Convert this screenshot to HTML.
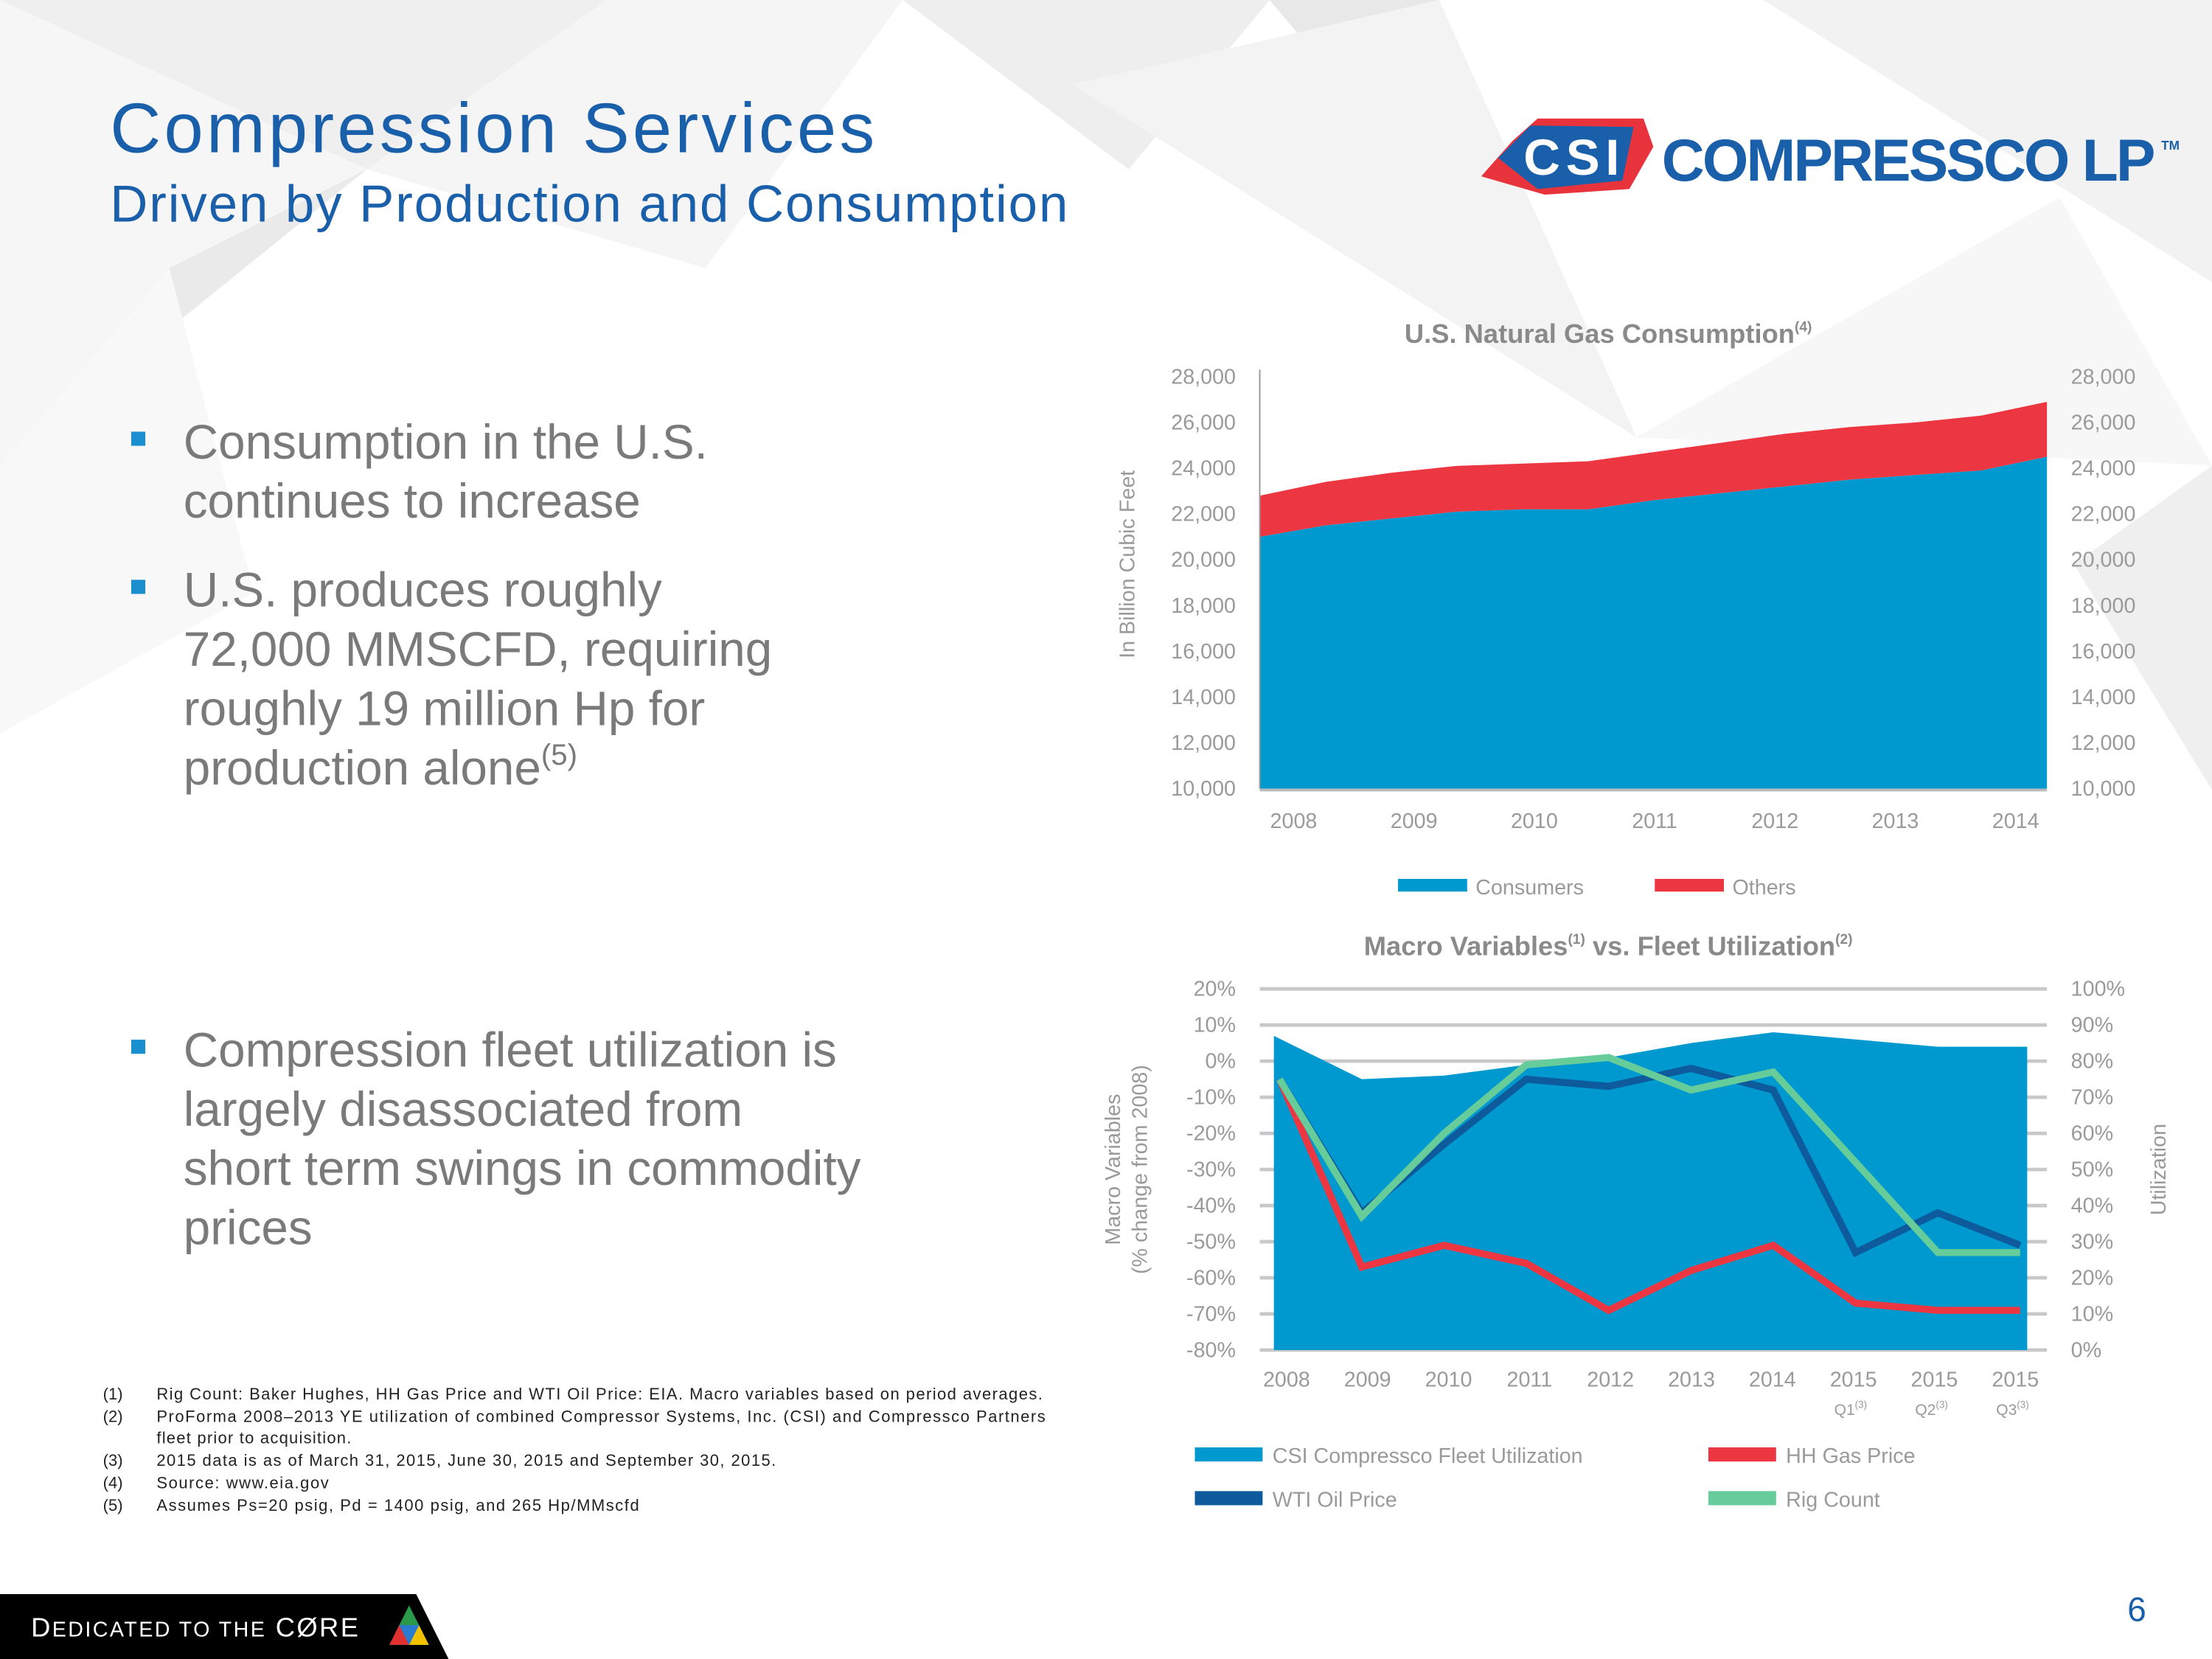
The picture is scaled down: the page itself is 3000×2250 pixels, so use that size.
<!DOCTYPE html>
<html><head><meta charset="utf-8">
<style>
html,body{margin:0;padding:0;background:#fff;}
svg{display:block;}
text{font-family:"Liberation Sans",Arial,sans-serif;}
.tk{fill:#9a9a9a;font-size:15px;}
.bl{fill:#7a7a7a;font-size:34.3px;}
.fn{fill:#222;font-size:11.5px;}
</style></head>
<body>
<svg id="s" width="3000" height="2250" viewBox="0 0 1568 1176" xmlns="http://www.w3.org/2000/svg">
<g>
<rect width="1568" height="1176" fill="#ffffff"/>
<polygon points="0,0 430,0 260,120" fill="#efefef"/>
<polygon points="260,120 430,0 640,0 500,190" fill="#f5f5f5"/>
<polygon points="0,0 260,120 0,330" fill="#f6f6f6"/>
<polygon points="0,330 260,120 120,190" fill="#eaeaea"/>
<polygon points="640,0 900,0 800,120" fill="#eeeeee"/>
<polygon points="900,0 1160,310 1020,0" fill="#e8e8e8"/>
<polygon points="760,60 1020,0 1160,310" fill="#f3f3f3"/>
<polygon points="1250,0 1568,0 1568,200" fill="#f2f2f2"/>
<polygon points="1160,310 1460,140 1568,330" fill="#f7f7f7"/>
<polygon points="1470,400 1568,330 1568,560" fill="#efefef"/>
<polygon points="0,330 120,190 180,420 0,520" fill="#f8f8f8"/>
</g>
<text x="78" y="108" fill="#1a5fa9" font-size="50" textLength="542">Compression Services</text>
<text x="78" y="157" fill="#1a5fa9" font-size="37" textLength="679">Driven by Production and Consumption</text>

<g>
<polygon points="1072,100 1090,84 1165,84 1172,104 1155,134 1095,138 1050,125" fill="#e8333c"/>
<polygon points="1062,112 1085,89 1158,90 1150,128 1090,134" fill="#1a5fa9"/>
<text x="1080" y="124" fill="#fff" font-size="36" font-weight="bold" textLength="68">CSI</text>
<text x="1178" y="128" fill="#1a5fa9" font-size="42" font-weight="bold" textLength="350">COMPRESSCO LP</text>
<text x="1532" y="106" fill="#1a5fa9" font-size="9" font-weight="bold">TM</text>
</g>

<g>
<rect x="93" y="306" width="10" height="10" fill="#1a8fd0"/>
<text x="130" y="325" class="bl">Consumption in the U.S.</text>
<text x="130" y="367" class="bl">continues to increase</text>
<rect x="93" y="411" width="10" height="10" fill="#1a8fd0"/>
<text x="130" y="430" class="bl">U.S. produces roughly</text>
<text x="130" y="472" class="bl">72,000 MMSCFD, requiring</text>
<text x="130" y="514" class="bl">roughly 19 million Hp for</text>
<text x="130" y="556" class="bl">production alone<tspan font-size="21" dy="-14">(5)</tspan></text>
<rect x="93" y="737" width="10" height="10" fill="#1a8fd0"/>
<text x="130" y="756" class="bl">Compression fleet utilization is</text>
<text x="130" y="798" class="bl">largely disassociated from</text>
<text x="130" y="840" class="bl">short term swings in commodity</text>
<text x="130" y="882" class="bl">prices</text>
</g>

<g>
<text x="73" y="992" class="fn">(1)</text><text x="111" y="992" class="fn" textLength="628">Rig Count: Baker Hughes, HH Gas Price and WTI Oil Price: EIA. Macro variables based on period averages.</text>
<text x="73" y="1008" class="fn">(2)</text><text x="111" y="1008" class="fn" textLength="630">ProForma 2008–2013 YE utilization of combined Compressor Systems, Inc. (CSI) and Compressco Partners</text>
<text x="111" y="1023" class="fn" textLength="138">fleet prior to acquisition.</text>
<text x="73" y="1039" class="fn">(3)</text><text x="111" y="1039" class="fn" textLength="439">2015 data is as of March 31, 2015, June 30, 2015 and September 30, 2015.</text>
<text x="73" y="1055" class="fn">(4)</text><text x="111" y="1055" class="fn" textLength="122">Source: www.eia.gov</text>
<text x="73" y="1071" class="fn">(5)</text><text x="111" y="1071" class="fn" textLength="342">Assumes Ps=20 psig, Pd = 1400 psig, and 265 Hp/MMscfd</text>
</g>

<g>
<polygon points="0,1130 295,1130 318,1176 0,1176" fill="#000"/>
<text x="22" y="1160" fill="#fff" font-size="19" textLength="232">D<tspan font-size="15">EDICATED TO THE</tspan> CØRE</text>
<polygon points="290,1138 276,1166 304,1166" fill="#2a9a4a"/>
<polygon points="283,1152 276,1166 290,1166" fill="#e03030"/>
<polygon points="297,1152 290,1166 304,1166" fill="#f2c200"/>
<polygon points="283,1152 297,1152 290,1166" fill="#2a7ad0"/>
</g>
<text x="1508" y="1149" fill="#1a5fa9" font-size="24">6</text>

<g id="chart1"></g>
<g id="chart2"></g>
</svg>
<script>
const NS='http://www.w3.org/2000/svg';
function mk(parent,tag,attrs,txt){const e=document.createElementNS(NS,tag);for(const k in attrs)e.setAttribute(k,attrs[k]);if(txt!==undefined)e.textContent=txt;parent.appendChild(e);return e;}

// ---- Chart 1 data ----
const c1Years=['2008','2009','2010','2011','2012','2013','2014'];
const c1Ticks=[10000,12000,14000,16000,18000,20000,22000,24000,26000,28000];
const consumers=[21000,21500,21800,22100,22200,22200,22600,22900,23200,23500,23700,23900,24500];
const totalGas=[22800,23400,23800,24100,24200,24300,24700,25100,25500,25800,26000,26300,26900];
const others=totalGas.map((t,i)=>t-consumers[i]);

// ---- Chart 2 data ----
const c2Cats=['2008','2009','2010','2011','2012','2013','2014','2015','2015','2015'];
const c2Sub=['','','','','','','','Q1','Q2','Q3'];
const c2LeftTicks=[20,10,0,-10,-20,-30,-40,-50,-60,-70,-80];
const c2RightTicks=[100,90,80,70,60,50,40,30,20,10,0];
const utilization=[87,75,76,79,81,85,88,86,84,84];
const wtiOil=[-5,-42,-23,-5,-7,-2,-8,-53,-42,-51];
const hhGas=[-5,-57,-51,-56,-69,-58,-51,-67,-69,-69];
const rigCount=[-5,-43,-20,-1,1,-8,-3,-28,-53,-53];

(function(){
const g=document.getElementById('chart1');
const x0=893,x1=1451,yTop=267,yBot=559;
const y=v=>yBot-(v-10000)/(28000-10000)*(yBot-yTop);
const xi=i=>x0+i/(consumers.length-1)*(x1-x0);
const t=mk(g,'text',{x:1140,y:243,'text-anchor':'middle',fill:'#8a8a8a','font-size':19,'font-weight':'bold'},'U.S. Natural Gas Consumption');


mk(t,'tspan',{'font-size':10,dy:-8},'(4)');
c1Ticks.forEach(v=>{
 const a=mk(g,'text',{x:876,y:y(v)+5,'text-anchor':'end',class:'tk'},v.toLocaleString('en-US'));
 
 
 const b=mk(g,'text',{x:1468,y:y(v)+5,class:'tk'},v.toLocaleString('en-US'));
 
 
});
const yl=mk(g,'text',{x:0,y:0,transform:'translate(804,400) rotate(-90)','text-anchor':'middle',fill:'#9a9a9a','font-size':15},'In Billion Cubic Feet');


let pt=consumers.map((v,i)=>xi(i)+','+y(v+others[i]));
let pc=consumers.map((v,i)=>xi(i)+','+y(v));
const ro=mk(g,'polygon',{points:pt.join(' ')+' '+pc.slice().reverse().join(' '),fill:'#ec3742'});


const rc=mk(g,'polygon',{points:pc.join(' ')+` ${x1},${yBot} ${x0},${yBot}`,fill:'#0099cf'});


mk(g,'line',{x1:x0,y1:yTop-5,x2:x0,y2:yBot,stroke:'#999','stroke-width':1});
mk(g,'line',{x1:x0,y1:yBot+1,x2:x1,y2:yBot+1,stroke:'#bbb','stroke-width':2});
c1Years.forEach((yr,i)=>{
 const e=mk(g,'text',{x:917+i*85.3,y:587,'text-anchor':'middle',class:'tk'},yr);
 
 
});
const l1=mk(g,'g',{});


mk(l1,'rect',{x:991,y:623,width:49,height:9,fill:'#0099cf'});
mk(l1,'text',{x:1046,y:634,class:'tk'},'Consumers');
const l2=mk(g,'g',{});


mk(l2,'rect',{x:1173,y:623,width:49,height:9,fill:'#ec3742'});
mk(l2,'text',{x:1228,y:634,class:'tk'},'Others');
})();

(function(){
const g=document.getElementById('chart2');
const gx0=893,gx1=1451,yTop=701,yBot=957,px0=907,px1=1432;
const y=v=>yBot-(v+80)/100*(yBot-yTop);
const yu=u=>yBot-u/100*(yBot-yTop);
const xi=i=>px0+i/(c2Cats.length-1)*(px1-px0);
const t=mk(g,'text',{x:1140,y:677,'text-anchor':'middle',fill:'#8a8a8a','font-size':19,'font-weight':'bold'},'Macro Variables');


mk(t,'tspan',{'font-size':10,dy:-8},'(1)');
mk(t,'tspan',{dy:8},' vs. Fleet Utilization');
mk(t,'tspan',{'font-size':10,dy:-8},'(2)');
c2LeftTicks.forEach(v=>{
 const gl=mk(g,'line',{x1:gx0,y1:y(v),x2:gx1,y2:y(v),stroke:'#c8c8c8','stroke-width':2.5});
 
 
 const a=mk(g,'text',{x:876,y:y(v)+5,'text-anchor':'end',class:'tk'},v+'%');
 
 
});
c2RightTicks.forEach(u=>{
 const b=mk(g,'text',{x:1468,y:yu(u)+5,class:'tk'},u+'%');
 
 
});
const yl=mk(g,'text',{x:0,y:0,transform:'translate(794,829) rotate(-90)','text-anchor':'middle',fill:'#9a9a9a','font-size':15},'Macro Variables');


const yl2=mk(g,'text',{x:0,y:0,transform:'translate(813,829) rotate(-90)','text-anchor':'middle',fill:'#9a9a9a','font-size':15},'(% change from 2008)');


const yr=mk(g,'text',{x:0,y:0,transform:'translate(1535,829) rotate(-90)','text-anchor':'middle',fill:'#9a9a9a','font-size':15},'Utilization');


const n=utilization.length;
let pts=utilization.map((u,i)=>{let x=xi(i);if(i===0)x-=4;if(i===n-1)x+=5;return x+','+yu(u);});
const ar=mk(g,'polygon',{points:pts.join(' ')+` ${xi(n-1)+5},${yBot} ${xi(0)-4},${yBot}`,fill:'#0099cf'});


function line(arr,col,name){
 const p=mk(g,'polyline',{points:arr.map((v,i)=>xi(i)+','+y(v)).join(' '),fill:'none',stroke:col,'stroke-width':5,'stroke-linejoin':'miter'});
 
 
}
line(wtiOil,'#0d5a9c','wti-oil-line');
line(hhGas,'#ec3742','hh-gas-line');
line(rigCount,'#66cc99','rig-count-line');
c2Cats.forEach((c,i)=>{
 const lx=912+i*57.4;
 const e=mk(g,'text',{x:lx,y:983,'text-anchor':'middle',class:'tk'},c);
 
 
 if(c2Sub[i]){
  const s=mk(g,'text',{x:lx-2,y:1003,'text-anchor':'middle',fill:'#9a9a9a','font-size':11},c2Sub[i]);
  
  
  mk(s,'tspan',{'font-size':7,dy:-5},'(3)');
 }
});
const leg=[['CSI Compressco Fleet Utilization','#0099cf',847,1031,'legend-utilization'],['HH Gas Price','#ec3742',1211,1031,'legend-hh-gas'],['WTI Oil Price','#0d5a9c',847,1062,'legend-wti-oil'],['Rig Count','#66cc99',1211,1062,'legend-rig-count']];
leg.forEach(l=>{
 const lg=mk(g,'g',{});
 
 
 mk(lg,'rect',{x:l[2],y:l[3]-5,width:48,height:10,fill:l[1]});
 mk(lg,'text',{x:l[2]+55,y:l[3]+6,class:'tk'},l[0]);
});
})();
</script>
</body></html>
